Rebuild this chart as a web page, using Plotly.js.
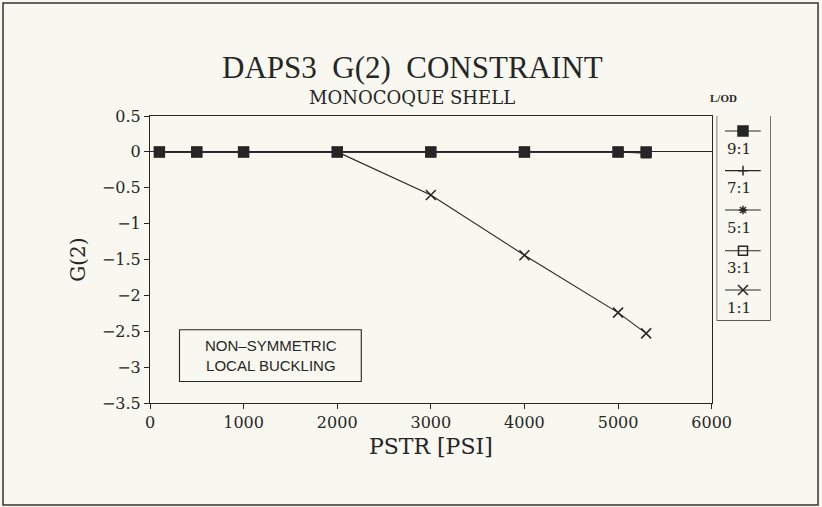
<!DOCTYPE html>
<html>
<head>
<meta charset="utf-8">
<script src="https://cdn.plot.ly/plotly-3.0.1.min.js"></script>
<style>
  html,body{margin:0;padding:0;background:#f8f8f0;}
  #chart{width:822px;height:507px;}
</style>
</head>
<body>
<div id="chart"></div>
<script>
// data
const pstr=[100,500,1000,2000,3000,4000,5000,5300];
const g9=[0,0,0,0,0,0,0,0];
const g7=[0,0,0,0,0,0,0,0];
const g5=[0,0,0,0,0,0,0,0];
const g3=[0,0,0,0,0,0,0,-0.02];
const g1=[0,0,0,0,-0.6,-1.44,-2.24,-2.53];
const seriesNames=['9:1','7:1','5:1','3:1','1:1'];
const xTicks=[0,1000,2000,3000,4000,5000,6000];
const yTicks=[0.5,0,-0.5,-1,-1.5,-2,-2.5,-3,-3.5];

const ink='#262626';
const serif='"DejaVu Serif", "Liberation Serif", serif';
const symbols={'9:1':'square','7:1':'cross-thin-open','5:1':'asterisk-open','3:1':'square-open','1:1':'x-thin-open'};
const sizes={'9:1':10,'7:1':7,'5:1':7,'3:1':9,'1:1':10};
const values={'9:1':g9,'7:1':g7,'5:1':g5,'3:1':g3,'1:1':g1};

function markerFor(name){
  return {symbol:symbols[name],size:sizes[name],color:ink,line:{color:ink,width:1.5}};
}

const traces=[];
// draw 1:1 first so the squares sit on top
['1:1','3:1','5:1','7:1','9:1'].forEach(n=>{
  traces.push({x:pstr,y:values[n],type:'scatter',mode:'lines+markers',name:n,
    line:{color:ink,width:1.1},marker:markerFor(n),showlegend:false,xaxis:'x',yaxis:'y'});
});

// hand drawn legend on its own small axis: a short line, then the marker on top
const legLineY=[0.927,0.733,0.541,0.342,0.150];
const legTextY=[0.837,0.647,0.451,0.256,0.061];
seriesNames.forEach((n,i)=>{
  traces.push({x:[0.154,0.815],y:[legLineY[i],legLineY[i]],type:'scatter',mode:'lines',
    line:{color:ink,width:1.1},showlegend:false,hoverinfo:'skip',xaxis:'x2',yaxis:'y2'});
  traces.push({x:[0.487],y:[legLineY[i]],type:'scatter',mode:'markers',
    marker:markerFor(n),showlegend:false,hoverinfo:'skip',xaxis:'x2',yaxis:'y2'});
});

const annotations=[
  {text:'DAPS3  G(2)  CONSTRAINT',xref:'paper',yref:'paper',x:0.422,y:1.168,yanchor:'middle',showarrow:false,
   font:{family:'"Liberation Serif", serif',size:31,color:ink}},
  {text:'MONOCOQUE SHELL',xref:'paper',yref:'paper',x:0.422,y:1.063,yanchor:'middle',showarrow:false,
   font:{family:serif,size:18,color:ink}},
  {text:'<b>L/OD</b>',xref:'paper',yref:'paper',x:0.947,y:1.062,yanchor:'middle',showarrow:false,
   font:{family:'"Liberation Serif", serif',size:11,color:ink}},
  {text:'NON–SYMMETRIC<br>LOCAL BUCKLING',xref:'x',yref:'y',x:1290,y:-2.84,yanchor:'middle',showarrow:false,
   font:{family:'"Liberation Sans", Arial, sans-serif',size:15,color:ink}}
];
seriesNames.forEach((n,i)=>{
  annotations.push({text:n,xref:'x2',yref:'y2',x:0.154,y:legTextY[i],xanchor:'left',yanchor:'middle',showarrow:false,
    font:{family:serif,size:15,color:ink}});
});

const shapes=[
  // outer frame of the page
  {type:'rect',xref:'paper',yref:'paper',x0:-0.2363,x1:1.074,y0:-0.3554,y1:1.3937,line:{color:'#333',width:1.5}},
  // note box
  {type:'rect',xref:'x',yref:'y',x0:315,x1:2257,y0:-2.48,y1:-3.2,line:{color:ink,width:1.1}},
  // legend box
  {type:'rect',xref:'x2',yref:'y2',x0:0,x1:1,y0:0,y1:1.005,line:{color:ink,width:1.2}}
];

const layout={
  width:822,height:507,
  paper_bgcolor:'#f8f8f0',plot_bgcolor:'#f8f8f0',
  margin:{l:150,r:50,t:116,b:104},
  showlegend:false,
  xaxis:{domain:[0,0.903],range:[0,6000],tickvals:xTicks,ticktext:xTicks.map(String),
    showgrid:false,zeroline:false,showline:true,mirror:true,linecolor:ink,linewidth:1,
    ticks:'outside',ticklen:5,tickcolor:ink,tickfont:{family:serif,size:16,color:ink},
    title:{text:'PSTR [PSI]',font:{family:serif,size:22,color:ink},standoff:7}},
  yaxis:{domain:[0,1],range:[-3.5,0.5],tickvals:yTicks,
    showgrid:false,zeroline:true,zerolinecolor:ink,zerolinewidth:1,showline:true,mirror:true,linecolor:ink,linewidth:1,
    ticks:'outside',ticklen:5,tickcolor:ink,tickfont:{family:serif,size:16,color:ink},
    title:{text:'G(2)',font:{family:serif,size:20,color:ink},standoff:10}},
  xaxis2:{domain:[0.911,0.998],range:[0,1],visible:false,anchor:'y2',fixedrange:true},
  yaxis2:{domain:[0.2868,1],range:[0,1],visible:false,anchor:'x2',fixedrange:true},
  annotations:annotations,
  shapes:shapes
};

Plotly.newPlot('chart',traces,layout,{displayModeBar:false,staticPlot:true});
</script>
</body>
</html>
